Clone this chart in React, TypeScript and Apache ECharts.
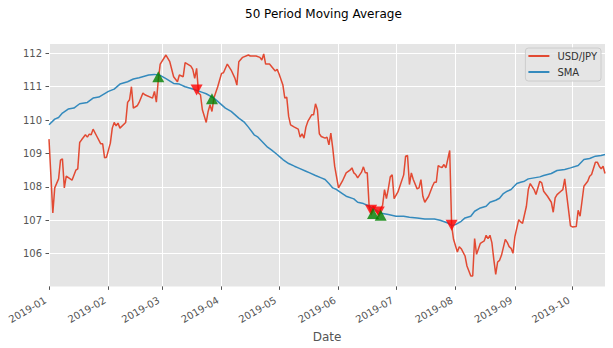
import React, { useEffect, useRef } from "react";
import * as echarts from "echarts";

// Day offsets are days since 2019-01-01
const usdJpy: [number, number][] = [
  [0, 109.43], [2, 107.22], [3, 107.97], [5, 108.24], [6, 108.8], [7, 108.84], [8, 107.97], [9, 108.32],
  [12, 108.2], [14, 108.5], [15, 108.54], [16, 109.33], [17, 109.41], [19, 109.56], [20, 109.49], [21, 109.58],
  [22, 109.56], [23, 109.73], [25, 109.51], [27, 109.29], [28, 109.29], [29, 108.87], [30, 108.89], [32, 109.31],
  [33, 109.76], [34, 109.93], [35, 109.83], [36, 109.91], [37, 109.76], [40, 109.93], [41, 110.53], [42, 110.61],
  [43, 111.0], [44, 110.36], [46, 110.43], [47, 110.53], [49, 110.81], [50, 110.76], [54, 110.66], [55, 110.86],
  [56, 110.54], [57, 111.2], [58, 111.68], [61, 111.95], [63, 111.75], [65, 111.3], [67, 111.15], [68, 111.35],
  [70, 111.3], [71, 111.72], [74, 111.62], [75, 111.52], [76, 111.25], [77, 111.55], [78, 110.81], [79, 110.76],
  [80, 110.31], [82, 109.93], [83, 110.26], [84, 110.46], [85, 110.26], [86, 110.66], [88, 111.0], [89, 111.2],
  [90, 111.4], [91, 111.42], [93, 111.68], [95, 111.5], [97, 111.25], [98, 111.05], [99, 111.75], [101, 111.88],
  [104, 111.95], [105, 111.92], [108, 111.92], [110, 111.88], [111, 111.8], [112, 111.98], [113, 111.68], [115, 111.68],
  [118, 111.47], [119, 111.52], [120, 111.38], [122, 111.05], [123, 110.66], [124, 110.69], [125, 110.11], [126, 109.86],
  [128, 109.79], [130, 109.73], [131, 109.49], [132, 109.59], [133, 109.46], [134, 109.79], [135, 109.96], [137, 110.16],
  [138, 110.16], [139, 110.49], [140, 110.31], [141, 109.59], [142, 109.51], [144, 109.46], [145, 109.49], [146, 109.26],
  [147, 109.61], [148, 109.16], [149, 108.62], [151, 107.97], [153, 108.17], [155, 108.42], [157, 108.5], [158, 108.57],
  [159, 108.42], [160, 108.37], [161, 108.27], [163, 108.44], [164, 108.6], [165, 108.42], [166, 108.42], [167, 107.4],
  [168, 107.25], [169, 107.42], [170, 107.3], [172, 107.18], [173, 107.35], [174, 107.45], [175, 107.92], [176, 107.65],
  [177, 107.95], [178, 108.3], [179, 108.36], [180, 107.65], [182, 107.85], [183, 108.02], [185, 108.36], [186, 108.92],
  [187, 108.94], [188, 108.07], [189, 108.42], [190, 108.22], [192, 107.94], [193, 107.97], [194, 108.22], [195, 107.72],
  [196, 107.54], [198, 107.72], [200, 108.02], [201, 108.14], [202, 108.14], [203, 108.64], [204, 108.6], [205, 108.58],
  [206, 108.67], [207, 108.57], [209, 109.09], [210, 106.85], [211, 106.43], [213, 106.05], [214, 106.21], [215, 106.15],
  [217, 105.93], [218, 105.63], [220, 105.33], [221, 105.33], [222, 106.45], [223, 105.98], [224, 106.15], [225, 106.31],
  [227, 106.38], [228, 106.55], [229, 106.45], [230, 106.55], [231, 106.33], [232, 105.83], [233, 105.38], [234, 105.75],
  [235, 105.8], [236, 105.95], [238, 106.43], [239, 106.34], [240, 106.21], [241, 106.16], [242, 106.01], [243, 106.51],
  [245, 107.02], [246, 106.95], [247, 106.91], [249, 107.42], [250, 107.92], [251, 108.1], [253, 107.92], [254, 107.77],
  [256, 108.17], [257, 108.12], [258, 107.87], [260, 107.72], [262, 107.54], [263, 107.24], [264, 107.67], [265, 107.77],
  [267, 107.87], [268, 107.92], [269, 108.24], [270, 107.77], [272, 106.83], [273, 106.8], [275, 106.81], [276, 107.3],
  [277, 107.12], [279, 108.02], [281, 108.17], [282, 108.32], [283, 108.37], [285, 108.74], [286, 108.74], [287, 108.62],
  [288, 108.54], [289, 108.62], [290, 108.4],
];

const sma: [number, number][] = [
  [0, 109.86], [3, 110.03], [5, 110.08], [7, 110.21], [10, 110.33], [13, 110.36], [16, 110.49], [20, 110.53],
  [23, 110.66], [26, 110.69], [31, 110.86], [34, 110.93], [37, 111.08], [41, 111.15], [44, 111.23], [47, 111.27],
  [52, 111.35], [55, 111.37], [58, 111.34], [61, 111.24], [65, 111.1], [68, 111.08], [71, 111.0], [75, 110.93],
  [80, 110.83], [82, 110.79], [86, 110.66], [88, 110.56], [92, 110.36], [95, 110.26], [99, 110.06], [102, 109.93],
  [104, 109.79], [107, 109.56], [109, 109.49], [114, 109.19], [116, 109.11], [119, 108.97], [121, 108.87], [122, 108.82],
  [125, 108.7], [128, 108.62], [130, 108.57], [134, 108.47], [136, 108.42], [139, 108.34], [142, 108.27], [144, 108.22],
  [146, 108.1], [148, 107.97], [150, 107.92], [153, 107.8], [155, 107.72], [159, 107.64], [161, 107.54], [164, 107.5],
  [166, 107.45], [170, 107.32], [174, 107.2], [177, 107.17], [181, 107.12], [185, 107.12], [188, 107.09], [192, 107.07],
  [196, 107.04], [201, 107.04], [204, 107.0], [208, 106.92], [210, 106.84], [212, 106.87], [215, 106.97], [217, 107.07],
  [220, 107.12], [222, 107.27], [225, 107.37], [228, 107.42], [230, 107.54], [233, 107.6], [235, 107.66], [237, 107.8],
  [239, 107.87], [241, 107.92], [244, 108.1], [246, 108.14], [248, 108.17], [250, 108.24], [253, 108.27], [256, 108.3],
  [258, 108.34], [262, 108.4], [265, 108.49], [269, 108.52], [272, 108.57], [276, 108.64], [279, 108.82], [282, 108.85],
  [285, 108.92], [288, 108.94], [290, 108.97],
];

const sellSignals: [number, number][] = [[77, 110.9], [168, 107.3], [172, 107.25], [210, 106.85]];
const buySignals: [number, number][] = [[57, 111.3], [85, 110.64], [169, 107.2], [173, 107.15]];

const yTicks = [106, 107, 108, 109, 110, 111, 112];
const monthLabels = [
  "2019-01", "2019-02", "2019-03", "2019-04", "2019-05",
  "2019-06", "2019-07", "2019-08", "2019-09", "2019-10",
];
const firstDay = 0;
const lastDay = 290;

const toTime = (d: number) => Date.UTC(2019, 0, 1 + d);
const toSeries = (arr: [number, number][]) => arr.map(([d, v]) => [toTime(d), v]);

export default function App() {
  const ref = useRef<HTMLDivElement>(null);

  useEffect(() => {
    const chart = echarts.init(ref.current!, undefined, { renderer: "svg" });
    const monthValues = monthLabels.map((m) => {
      const [y, mo] = m.split("-").map(Number);
      return Date.UTC(y, mo - 1, 1);
    });
    const labelFor = (v: number) => {
      const i = monthValues.indexOf(v);
      return i >= 0 ? monthLabels[i] : "";
    };
    const tickColor = "#555555";

    chart.setOption({
      animation: false,
      textStyle: { fontFamily: "DejaVu Sans" },
      title: {
        text: "50 Period Moving Average",
        left: 240,
        top: 3,
        textStyle: { fontSize: 12, fontWeight: "normal", color: "#000000", fontFamily: "DejaVu Sans" },
      },
      legend: {
        data: ["USD/JPY", "SMA"],
        orient: "vertical",
        right: 12,
        top: 48,
        icon: "rect",
        itemWidth: 21,
        itemHeight: 2,
        itemGap: 4,
        padding: [2, 4, 3, 3],
        backgroundColor: "rgba(229,229,229,0.8)",
        borderColor: "#CCCCCC",
        borderWidth: 1,
        borderRadius: 3,
        textStyle: { fontSize: 10, color: "#333333", padding: [0, 0, 0, 3], lineHeight: 12 },
      },
      grid: {
        left: 49,
        right: 8,
        top: 44,
        bottom: 61,
        show: true,
        backgroundColor: "#E5E5E5",
        borderWidth: 0,
      },
      xAxis: {
        type: "value",
        min: toTime(firstDay),
        max: toTime(lastDay),
        name: "Date",
        nameLocation: "middle",
        nameGap: 44,
        nameTextStyle: { fontSize: 12, color: tickColor },
        axisLine: { show: false },
        axisTick: { show: true, length: 3.5, customValues: monthValues, lineStyle: { color: tickColor } },
        axisLabel: {
          customValues: monthValues,
          rotate: 30,
          formatter: (v: number) => labelFor(v),
          fontSize: 10,
          color: tickColor,
          margin: 11,
          padding: [0, 4, 0, 0],
        },
        splitLine: { show: true, lineStyle: { color: "#FFFFFF", width: 1 } },
      },
      yAxis: {
        type: "value",
        min: 105.02,
        max: 112.28,
        axisLine: { show: false },
        axisTick: { show: true, length: 3.5, customValues: yTicks, lineStyle: { color: tickColor } },
        axisLabel: { customValues: yTicks, fontSize: 10, color: tickColor, margin: 7 },
        splitLine: { show: true, lineStyle: { color: "#FFFFFF", width: 1 } },
      },
      series: [
        {
          name: "USD/JPY",
          type: "line",
          data: toSeries(usdJpy),
          symbol: "none",
          lineStyle: { color: "#E24A33", width: 1.5 },
          itemStyle: { color: "#E24A33" },
        },
        {
          name: "SMA",
          type: "line",
          data: toSeries(sma),
          symbol: "none",
          lineStyle: { color: "#348ABD", width: 1.5 },
          itemStyle: { color: "#348ABD" },
        },
        {
          name: "Sell",
          type: "scatter",
          data: toSeries(sellSignals),
          symbol: "triangle",
          symbolRotate: 180,
          symbolSize: [12, 11],
          itemStyle: { color: "#FF0000" },
          z: 5,
        },
        {
          name: "Buy",
          type: "scatter",
          data: toSeries(buySignals),
          symbol: "triangle",
          symbolSize: [12, 11],
          itemStyle: { color: "#008000" },
          z: 5,
        },
      ],
    });
    return () => chart.dispose();
  }, []);

  return (
    <div
      ref={ref}
      style={{ position: "absolute", left: 0, top: 0, width: 613, height: 348 }}
    />
  );
}
